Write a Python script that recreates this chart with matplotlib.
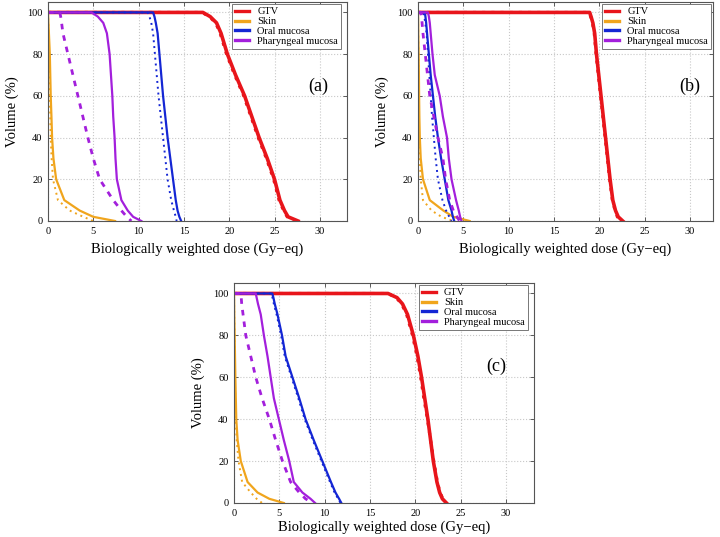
import matplotlib
matplotlib.use("Agg")
import matplotlib.pyplot as plt

plt.rcParams['font.family'] = ['Liberation Serif', 'DejaVu Serif']

# volume levels (%) at which the dose of each curve was read
VOL = [100, 98, 95, 90, 80, 70, 60, 50, 40, 30, 20, 10, 5, 2, 0]

# ---- panel (a) : dose (Gy-eq) at each volume level
a_gtv = [17.1, 17.9, 18.6, 19.1, 19.8, 20.7, 21.7, 22.5, 23.3, 24.2, 25.0, 25.6, 26.1, 26.5, 27.6]
a_gtv_d = [17.0, 17.8, 18.5, 19.0, 19.7, 20.6, 21.6, 22.4, 23.2, 24.1, 24.9, 25.5, 26.0, 26.4, 27.3]
a_skin = [0, 0.02, 0.05, 0.1, 0.2, 0.25, 0.3, 0.38, 0.45, 0.6, 0.9, 1.8, 3.5, 5.0, 7.4]
a_skin_d = [0, 0.01, 0.03, 0.06, 0.12, 0.16, 0.2, 0.25, 0.3, 0.4, 0.55, 1.1, 2.4, 3.9, 5.0]
a_oral = [11.6, 11.75, 11.9, 12.1, 12.3, 12.5, 12.7, 12.95, 13.2, 13.5, 13.8, 14.1, 14.3, 14.5, 14.7]
a_oral_d = [11.0, 11.2, 11.4, 11.6, 11.8, 12.0, 12.2, 12.45, 12.7, 12.95, 13.2, 13.6, 13.9, 14.1, 14.2]
a_phar = [4.8, 5.5, 6.1, 6.5, 6.8, 6.95, 7.1, 7.2, 7.35, 7.45, 7.6, 8.1, 8.8, 9.4, 10.3]
a_phar_d = [1.3, 1.4, 1.5, 1.65, 2.2, 2.75, 3.3, 3.85, 4.4, 5.0, 5.7, 7.2, 8.1, 8.7, 9.2]

# ---- panel (b)
b_gtv = [18.95, 19.1, 19.3, 19.5, 19.7, 19.95, 20.2, 20.45, 20.7, 20.95, 21.2, 21.5, 21.8, 22.1, 22.6]
b_gtv_d = [18.9, 19.05, 19.25, 19.45, 19.65, 19.9, 20.15, 20.4, 20.65, 20.9, 21.15, 21.45, 21.75, 22.0, 22.4]
b_skin = [0, 0.01, 0.02, 0.03, 0.07, 0.1, 0.12, 0.15, 0.2, 0.3, 0.55, 1.3, 2.8, 3.9, 5.7]
b_skin_d = [0, 0.005, 0.01, 0.02, 0.04, 0.06, 0.08, 0.1, 0.12, 0.2, 0.3, 0.55, 1.5, 2.6, 3.9]
b_oral = [0.75, 0.82, 0.9, 1.0, 1.2, 1.4, 1.65, 1.9, 2.2, 2.55, 2.95, 3.35, 3.7, 3.85, 4.0]
b_oral_d = [0.55, 0.7, 0.8, 0.95, 1.1, 1.25, 1.4, 1.55, 1.75, 1.95, 2.2, 2.7, 3.1, 3.45, 3.7]
b_phar = [1.1, 1.2, 1.3, 1.4, 1.6, 1.85, 2.4, 2.75, 3.2, 3.4, 3.7, 4.2, 4.5, 4.65, 4.8]
b_phar_d = [0.3, 0.38, 0.45, 0.55, 0.8, 1.05, 1.3, 1.75, 2.2, 2.75, 3.05, 3.5, 3.9, 4.3, 4.6]

# ---- panel (c)
c_gtv = [17.0, 18.0, 18.6, 19.15, 19.8, 20.3, 20.7, 21.05, 21.4, 21.7, 22.0, 22.4, 22.7, 23.0, 23.45]
c_gtv_d = [17.0, 17.9, 18.5, 19.05, 19.7, 20.2, 20.6, 20.95, 21.35, 21.7, 22.05, 22.45, 22.75, 23.05, 23.3]
c_skin = [0, 0.01, 0.02, 0.03, 0.07, 0.11, 0.15, 0.2, 0.25, 0.4, 0.75, 1.5, 2.6, 3.9, 5.5]
c_skin_d = [0, 0.005, 0.01, 0.02, 0.05, 0.07, 0.1, 0.14, 0.18, 0.3, 0.5, 0.9, 1.85, 2.5, 3.1]
c_oral = [4.23, 4.35, 4.5, 4.8, 5.3, 5.7, 6.45, 7.2, 7.9, 8.8, 9.75, 10.7, 11.2, 11.6, 11.85]
c_oral_d = [4.15, 4.25, 4.4, 4.7, 5.2, 5.6, 6.35, 7.1, 7.8, 8.7, 9.65, 10.6, 11.1, 11.5, 11.75]
c_phar = [2.4, 2.5, 2.65, 2.95, 3.3, 3.7, 4.05, 4.4, 4.95, 5.5, 6.1, 6.6, 7.55, 8.45, 8.95]
c_phar_d = [0.75, 0.8, 0.85, 1.0, 1.3, 1.85, 2.4, 3.1, 3.9, 4.6, 5.35, 6.25, 7.2, 7.9, 8.65]

organs = ['GTV', 'Skin', 'Oral mucosa', 'Pharyngeal mucosa']
colors = ['#e8151b', '#f0a51d', '#1426d4', '#a31fdc']

panels = [
    ('(a)', [a_gtv, a_skin, a_oral, a_phar], [a_gtv_d, a_skin_d, a_oral_d, a_phar_d]),
    ('(b)', [b_gtv, b_skin, b_oral, b_phar], [b_gtv_d, b_skin_d, b_oral_d, b_phar_d]),
    ('(c)', [c_gtv, c_skin, c_oral, c_phar], [c_gtv_d, c_skin_d, c_oral_d, c_phar_d]),
]

W, H = 720, 537
# axes boxes in pixels: left, top, right, bottom
boxes = [(48, 2, 347, 221), (418, 2, 713, 221), (234, 283, 534, 503)]
label_pos = [(29.8, 64.7), (30.0, 64.7), (29.0, 65.0)]
leg_gap = [6, 2, 6]
xpad = [5, 5, 2]

fig = plt.figure(figsize=(W / 100, H / 100), dpi=100)

for (lab, solid, dotted), (l, t, r, b), (lx, ly), g, xp in zip(panels, boxes, label_pos, leg_gap, xpad):
    ax = fig.add_axes([l / W, 1 - b / H, (r - l) / W, (b - t) / H])
    for i, (name, col) in enumerate(zip(organs, colors)):
        xs = [0] + solid[i]
        ys = [100] + VOL
        xd = [0] + dotted[i]
        lw = 2.6 if i == 0 else 1.6
        if i == 3:
            ax.plot(xd, ys, color=col, lw=2.0, dashes=(2.0, 2.2))
        else:
            ax.plot(xd, ys, color=col, lw=1.4 if i else 2.2, dashes=(1, 2.0))
        ax.plot(xs, ys, color=col, lw=lw, label=name)

    ax.set_xlim(0, (r - l) / 9.06)
    ax.set_ylim(0, 105)
    ax.set_xticks([0, 5, 10, 15, 20, 25, 30])
    ax.set_yticks([0, 20, 40, 60, 80, 100])
    ax.grid(True, color='#c8c8c8', ls=':', lw=0.8)
    ax.tick_params(direction='in', top=True, right=True, labelsize=7.5, length=3, width=0.6,
                   color='#444444', pad=4)
    for s in ax.spines.values():
        s.set_color('#555555')
        s.set_linewidth(0.8)
    ax.set_xlabel('Biologically weighted dose (Gy\u2212eq)', fontsize=10.5, labelpad=xp)
    ax.set_ylabel('Volume (%)', fontsize=10.5, labelpad=6)
    ax.text(lx, ly, lab, fontsize=13, ha='center', va='center')
    leg = ax.legend(loc='upper right', bbox_to_anchor=(1 - g / (r - l), 1 - 2 / 219),
                    borderaxespad=0, fontsize=7.5, handlelength=1.3, handletextpad=0.8,
                    labelspacing=0.05, borderpad=0.3, fancybox=False, framealpha=1)
    leg.get_frame().set_edgecolor('#777777')
    leg.get_frame().set_linewidth(0.7)
    for h in leg.get_lines():
        h.set_linewidth(2.4)

fig.savefig('out.png', dpi=100)
